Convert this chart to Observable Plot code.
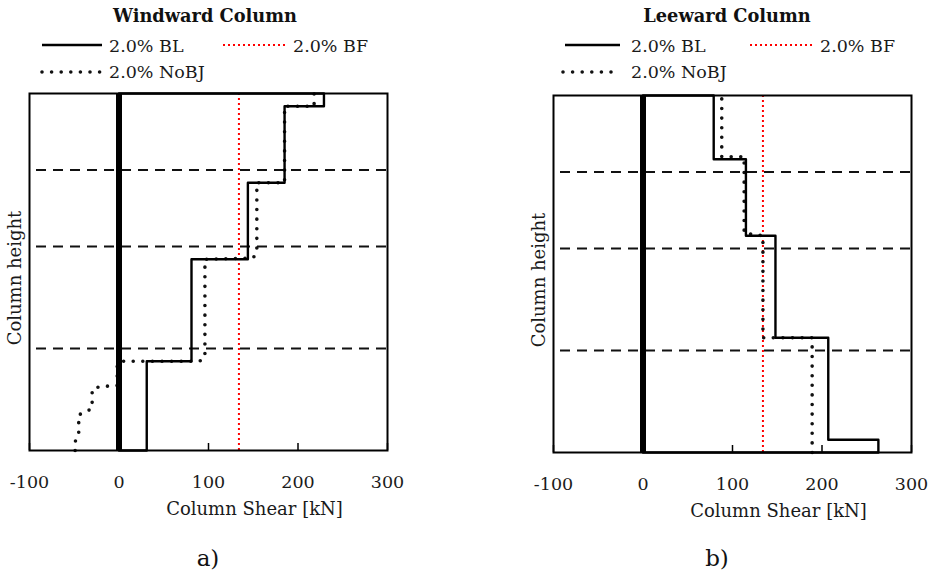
<!DOCTYPE html>
<html>
<head>
<meta charset="utf-8">
<script src="https://cdn.jsdelivr.net/npm/d3@7"></script>
<script src="https://cdn.jsdelivr.net/npm/@observablehq/plot@0.6"></script>
<style>
  html, body { margin: 0; padding: 0; background: #fff; }
  #root { position: relative; width: 935px; height: 578px; font-family: "DejaVu Serif", serif; color: #1a1a1a; overflow: hidden; }
  .abs { position: absolute; white-space: nowrap; }
  .title { font-weight: bold; font-size: 17.8px; color: #111; transform: translate(-50%, -50%); }
  .leg { font-size: 17.5px; transform: translateY(-50%); }
  .cap { font-size: 23px; transform: translate(-50%, -50%); color: #111; }
</style>
</head>
<body>
<div id="root"></div>
<script>
// ---------- data ----------
const xDomain = [-100, 300];
const xTicks = [-100, 0, 100, 200, 300];
const yDomain = [0, 14];            // column height (storey levels)
const floorLevels = [4, 8, 11];     // dashed storey lines
const bfValue = 134;                // 2.0% BF (constant shear)

const titles = ["Windward Column", "Leeward Column"];
const captions = ["a)", "b)"];
const seriesNames = ["2.0% BL", "2.0% BF", "2.0% NoBJ"];
const xLabel = "Column Shear [kN]";
const yLabel = "Column height";

// Windward column, 2.0% BL (solid) – polyline vertices
const windBL_x = [0, 31, 31, 81, 81, 144, 144, 185, 185, 229, 229, 0];
const windBL_h = [0, 0, 3.5, 3.5, 7.5, 7.5, 10.5, 10.5, 13.5, 13.5, 14, 14];
// Windward column, 2.0% NoBJ (dotted)
const windNoBJ_x = [-49, -49, -45, -45, -38, -30, -30, -22, -2, -2, 1, 90, 96, 96, 150, 154, 154, 185, 185, 218, 218];
const windNoBJ_h = [0, 0.35, 0.6, 1.4, 1.5, 1.65, 2.4, 2.5, 2.55, 3.3, 3.5, 3.5, 3.65, 7.5, 7.55, 7.8, 10.5, 10.5, 13.5, 13.5, 14];

// Leeward column, 2.0% BL (solid)
const leeBL_x = [0, 263, 263, 207, 207, 148, 148, 115, 115, 79, 79, 0];
const leeBL_h = [0, 0, 0.5, 0.5, 4.5, 4.5, 8.5, 8.5, 11.5, 11.5, 14, 14];
// Leeward column, 2.0% NoBJ (dotted)
const leeNoBJ_x = [189, 189, 134, 134, 113, 113, 88, 88];
const leeNoBJ_h = [0, 4.5, 4.5, 8.5, 8.6, 11.6, 11.6, 14];

// ---------- helpers ----------
const pts = (xs, hs) => xs.map((x, i) => ({x, y: hs[i]}));
const root = document.getElementById("root");

function addText(cls, txt, x, y) {
  const d = document.createElement("div");
  d.className = "abs " + cls;
  d.textContent = txt;
  d.style.left = x + "px";
  d.style.top = y + "px";
  root.appendChild(d);
}
function addSwatch(kind, x1, x2, y) {
  const ns = "http://www.w3.org/2000/svg";
  const s = document.createElementNS(ns, "svg");
  s.setAttribute("width", x2 - x1 + 10);
  s.setAttribute("height", 10);
  s.style.position = "absolute";
  s.style.left = (x1 - 5) + "px";
  s.style.top = (y - 5) + "px";
  const l = document.createElementNS(ns, "line");
  l.setAttribute("x1", 5); l.setAttribute("x2", x2 - x1 + 5);
  l.setAttribute("y1", 5); l.setAttribute("y2", 5);
  if (kind === "BL") { l.setAttribute("stroke", "#000"); l.setAttribute("stroke-width", 2.4); }
  if (kind === "BF") { l.setAttribute("stroke", "red"); l.setAttribute("stroke-width", 2); l.setAttribute("stroke-dasharray", "2,3"); }
  if (kind === "NoBJ") { l.setAttribute("stroke", "#111"); l.setAttribute("stroke-width", 3.6); l.setAttribute("stroke-dasharray", "0,9.6"); l.setAttribute("stroke-linecap", "round"); }
  s.appendChild(l);
  root.appendChild(s);
}

function panel(bl, nobj, width, marginRight) {
  return Plot.plot({
    width, height: 435,
    marginLeft: 29, marginRight, marginTop: 8, marginBottom: 70,
    x: {domain: xDomain},
    y: {domain: yDomain, axis: null},
    style: {fontFamily: "DejaVu Serif", fontSize: "17px", color: "#1a1a1a", background: "transparent", overflow: "visible"},
    marks: [
      Plot.ruleY(floorLevels, {stroke: "#111", strokeWidth: 2, strokeDasharray: "10,7", strokeDashoffset: -7}),
      Plot.ruleX([bfValue], {y1: yDomain[0], y2: yDomain[1], stroke: "red", strokeWidth: 2, strokeDasharray: "2,3"}),
      Plot.line(nobj, {x: "x", y: "y", stroke: "#111", strokeWidth: 3.6, strokeDasharray: "0,9.6", strokeLinecap: "round"}),
      Plot.line(bl, {x: "x", y: "y", stroke: "#000", strokeWidth: 2.4}),
      Plot.ruleX([0], {stroke: "#000", strokeWidth: 6}),
      Plot.frame({stroke: "#000", strokeWidth: 2}),
      Plot.axisX(xTicks, {tickSize: -7, tickFormat: () => "", label: null, stroke: "#000", strokeWidth: 1.5}),
      Plot.axisX(xTicks, {tickSize: 0, tickPadding: 25, label: null, tickFormat: d => String(d), fontSize: 17.5, fill: "#1a1a1a"}),
      Plot.text([yLabel], {frameAnchor: "left", textAnchor: "middle", rotate: -90, dx: -14, dy: 6, fontSize: 18, fill: "#1a1a1a"}),
      Plot.text([xLabel], {frameAnchor: "bottom", textAnchor: "middle", dy: 64, dx: 46, fontSize: 18, fill: "#1a1a1a"})
    ]
  });
}

// ---------- panel a ----------
const svgA = panel(pts(windBL_x, windBL_h), pts(windNoBJ_x, windNoBJ_h), 420, 33);
svgA.style.position = "absolute"; svgA.style.left = "0px"; svgA.style.top = "85px";
root.appendChild(svgA);
addText("title", titles[0], 205, 15);
addSwatch("BL", 42, 102, 45);  addText("leg", seriesNames[0], 109, 46);
addSwatch("BF", 223, 287, 45); addText("leg", seriesNames[1], 293, 46);
addSwatch("NoBJ", 42, 100, 72); addText("leg", seriesNames[2], 109, 72);
addText("cap", captions[0], 208, 558);

// ---------- panel b ----------
const svgB = panel(pts(leeBL_x, leeBL_h), pts(leeNoBJ_x, leeNoBJ_h), 411, 24);
svgB.style.position = "absolute"; svgB.style.left = "524px"; svgB.style.top = "87px";
root.appendChild(svgB);
addText("title", titles[1], 727, 15);
addSwatch("BL", 565, 620, 45);  addText("leg", seriesNames[0], 631, 46);
addSwatch("BF", 750, 813, 45);  addText("leg", seriesNames[1], 820, 46);
addSwatch("NoBJ", 563, 620, 72); addText("leg", seriesNames[2], 631, 72);
addText("cap", captions[1], 717, 558);
</script>
</body>
</html>
